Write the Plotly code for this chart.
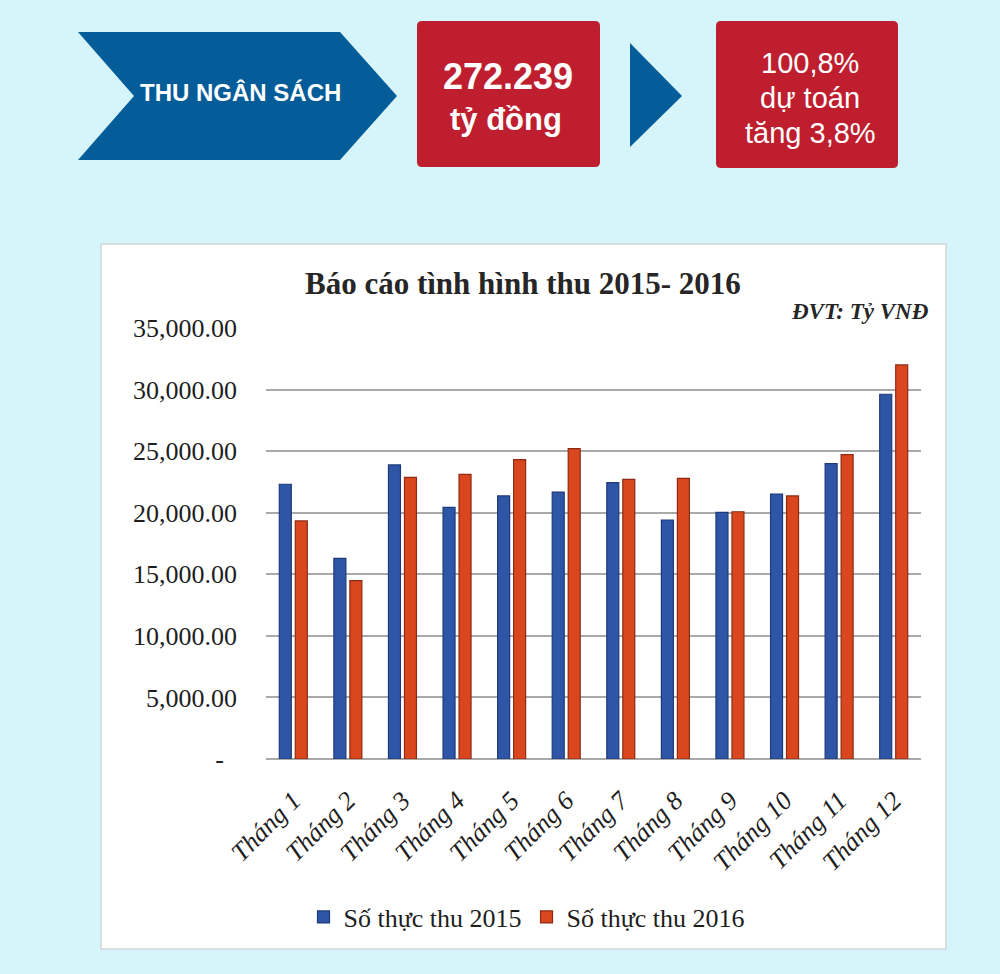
import plotly.graph_objects as go

months = ["Tháng 1", "Tháng 2", "Tháng 3", "Tháng 4", "Tháng 5", "Tháng 6",
          "Tháng 7", "Tháng 8", "Tháng 9", "Tháng 10", "Tháng 11", "Tháng 12"]
thu_2015 = [22310, 16300, 23880, 20440, 21360, 21680, 22440, 19410, 20030, 21520, 23980, 29620]
thu_2016 = [19330, 14480, 22870, 23120, 24310, 25200, 22710, 22790, 20080, 21360, 24710, 32000]
y_tickvals = [0, 5000, 10000, 15000, 20000, 25000, 30000, 35000]
y_ticktext = ["-\u00a0\u00a0", "5,000.00", "10,000.00", "15,000.00", "20,000.00",
              "25,000.00", "30,000.00", "35,000.00"]

W, H = 1000, 974
L, R, T, B = 266, 921, 328, 759  # plot area in pixels


def px(x):
    return (x - L) / (R - L)


def py(y):
    return (B - y) / (B - T)


fig = go.Figure()
fig.add_trace(go.Bar(
    x=months, y=thu_2015, name="Số thực thu 2015",
    marker=dict(color="#2f56a6", line=dict(color="#1d3a7a", width=1.2)),
))
fig.add_trace(go.Bar(
    x=months, y=thu_2016, name="Số thực thu 2016",
    marker=dict(color="#da471e", line=dict(color="#8e2b12", width=1.2)),
))

bg = "#d6f5fa"
shapes = []
# white chart panel
shapes.append(dict(type="rect", xref="paper", yref="paper",
                   x0=px(101), x1=px(946), y0=py(949), y1=py(244),
                   fillcolor="white", line=dict(color="#cfd6d8", width=1.5), layer="below"))
# blue chevron
chev = [(78, 32), (340, 32), (397, 96), (340, 160), (78, 160), (134, 96)]
path = "M " + " L ".join(f"{px(a)},{py(b)}" for a, b in chev) + " Z"
shapes.append(dict(type="path", xref="paper", yref="paper", path=path,
                   fillcolor="#045c98", line=dict(width=0)))
# blue triangle
tri = [(630, 43), (682, 96), (630, 147)]
path = "M " + " L ".join(f"{px(a)},{py(b)}" for a, b in tri) + " Z"
shapes.append(dict(type="path", xref="paper", yref="paper", path=path,
                   fillcolor="#045c98", line=dict(width=0)))


def rounded_rect(x0, y0, x1, y1, r):
    pts = (f"M {px(x0 + r)},{py(y0)} L {px(x1 - r)},{py(y0)} "
           f"Q {px(x1)},{py(y0)} {px(x1)},{py(y0 + r)} L {px(x1)},{py(y1 - r)} "
           f"Q {px(x1)},{py(y1)} {px(x1 - r)},{py(y1)} L {px(x0 + r)},{py(y1)} "
           f"Q {px(x0)},{py(y1)} {px(x0)},{py(y1 - r)} L {px(x0)},{py(y0 + r)} "
           f"Q {px(x0)},{py(y0)} {px(x0 + r)},{py(y0)} Z")
    return pts


for (a, b, c, d) in [(417, 21, 600, 167), (716, 21, 898, 168)]:
    shapes.append(dict(type="path", xref="paper", yref="paper",
                       path=rounded_rect(a, b, c, d, 5),
                       fillcolor="#be1e2d", line=dict(width=0)))

annotations = []


def ann(text, x, y, size, family="Liberation Sans", color="white", xanchor="center"):
    annotations.append(dict(text=text, x=px(x), y=py(y), xref="paper", yref="paper",
                            showarrow=False, xanchor=xanchor, yanchor="middle",
                            font=dict(family=family, size=size, color=color)))


ann("<b>THU NGÂN SÁCH</b>", 240, 92, 24)
ann("<b>272.239</b>", 508, 76, 36)
ann("<b>tỷ đồng</b>", 506, 119, 31)
ann("100,8%", 810, 63, 29)
ann("dự toán", 810, 98, 29)
ann("tăng 3,8%", 810, 133, 29)
ann("<b>Báo cáo tình hình thu 2015- 2016</b>", 523, 283, 31,
    family="Liberation Serif", color="#262626")
ann("<b><i>ĐVT: Tỷ VNĐ</i></b>", 931, 311, 23,
    family="Liberation Serif", color="#262626", xanchor="right")

fig.update_layout(
    width=W, height=H,
    margin=dict(l=L, r=W - R, t=T, b=H - B, pad=0),
    paper_bgcolor=bg, plot_bgcolor="rgba(0,0,0,0)",
    barmode="group", bargap=0.414, bargroupgap=0.25,
    shapes=shapes, annotations=annotations,
    showlegend=True,
    legend=dict(orientation="h", x=px(527), y=py(917), xanchor="center", yanchor="middle",
                font=dict(family="Liberation Serif", size=26, color="#1e1e1e"),
                bgcolor="rgba(0,0,0,0)", itemclick=False),
    font=dict(family="Liberation Serif", color="#222222"),
)
fig.update_xaxes(
    tickangle=-45, tickmode="array", tickvals=months,
    ticktext=[f"<i>{m}</i>" for m in months],
    tickfont=dict(family="Liberation Serif", size=26, color="#1e1e1e"),
    showgrid=False, showline=False, ticks="", ticklabelstandoff=20,
)
fig.update_yaxes(
    range=[0, 35000], tickmode="array", tickvals=y_tickvals, ticktext=y_ticktext,
    tickfont=dict(family="Liberation Serif", size=26, color="#1e1e1e"),
    showgrid=True, gridcolor="#a9a9a9", gridwidth=2,
    zeroline=True, zerolinecolor="#a9a9a9", zerolinewidth=2,
    showline=False, ticks="", ticklabelstandoff=28,
)

fig.write_html(
    "out.html",
    config={"displayModeBar": False},
    post_script="document.body.style.margin='0';document.body.style.background='#d6f5fa';",
)
